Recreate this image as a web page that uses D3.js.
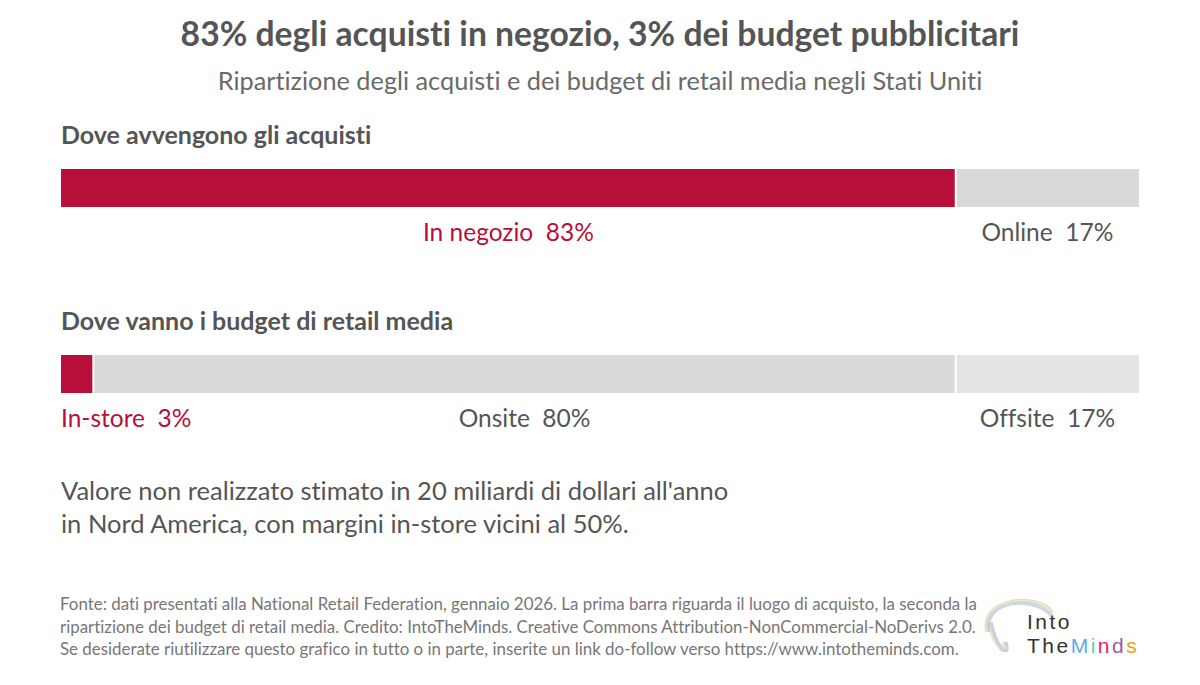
<!DOCTYPE html>
<html>
<head>
<meta charset="utf-8">
<script src="https://cdn.jsdelivr.net/npm/d3@7"></script>
<style>
  body { margin: 0; background: #fff; }
  svg { font-family: Lato, "Open Sans", sans-serif; font-variant-ligatures: none; }
</style>
</head>
<body>
<svg id="chart" width="1200" height="685"></svg>
<script>
// data
var rowTitles = ["Dove avvengono gli acquisti", "Dove vanno i budget di retail media"];
var purchaseCats = ["In negozio", "Online"];
var purchaseVals = [83, 17];
var budgetCats = ["In-store", "Onsite", "Offsite"];
var budgetVals = [3, 80, 17];
var footerLines = [
  "Fonte: dati presentati alla National Retail Federation, gennaio 2026. La prima barra riguarda il luogo di acquisto, la seconda la",
  "ripartizione dei budget di retail media. Credito: IntoTheMinds. Creative Commons Attribution-NonCommercial-NoDerivs 2.0.",
  "Se desiderate riutilizzare questo grafico in tutto o in parte, inserite un link do-follow verso https://www.intotheminds.com."
];
var noteLines = [
  "Valore non realizzato stimato in 20 miliardi di dollari all'anno",
  "in Nord America, con margini in-store vicini al 50%."
];

var width = 1200, height = 685;
var svg = d3.select("#chart");

var x = d3.scaleLinear().domain([0, 100]).range([61, 1139]);

svg.append("text")
   .attr("x", width / 2).attr("y", 46)
   .attr("text-anchor", "middle")
   .attr("font-size", 33.7).attr("font-weight", 700)
   .attr("fill", "#555")
   .text("83% degli acquisti in negozio, 3% dei budget pubblicitari");

svg.append("text")
   .attr("x", width / 2).attr("y", 90)
   .attr("text-anchor", "middle")
   .attr("font-size", 25.3)
   .attr("fill", "#6a6a6a")
   .text("Ripartizione degli acquisti e dei budget di retail media negli Stati Uniti");

function drawRow(title, cats, vals, colors, textColors, top, leftAlignFirst) {
    var g = svg.append("g");

    g.append("text")
     .attr("x", 61).attr("y", top - 25)
     .attr("font-size", 25).attr("font-weight", 700)
     .attr("fill", "#555")
     .text(title);

    var segs = [];
    var acc = 0;
    for (var i = 0; i < vals.length; i++) {
        segs.push({ cat: cats[i], v: vals[i], x0: acc, x1: acc + vals[i], i: i });
        acc += vals[i];
    }

    g.selectAll(".seg")
     .data(segs)
     .enter()
     .append("rect")
       .classed("seg", true)
       .attr("x", d => x(d.x0) + (d.i > 0 ? 1 : 0))
       .attr("y", top)
       .attr("width", d => x(d.x1) - x(d.x0) - (d.i > 0 ? 1 : 0) - (d.i < segs.length - 1 ? 1 : 0))
       .attr("height", 38)
       .attr("fill", d => colors[d.i]);

    g.selectAll(".lab")
     .data(segs)
     .enter()
     .append("text")
       .classed("lab", true)
       .attr("x", d => (leftAlignFirst && d.i === 0) ? x(d.x0) : (x(d.x0) + x(d.x1)) / 2)
       .attr("y", top + 72)
       .attr("text-anchor", d => (leftAlignFirst && d.i === 0) ? "start" : "middle")
       .attr("font-size", 24.5)
       .attr("fill", d => textColors[d.i])
       .attr("xml:space", "preserve")
       .text(d => d.cat + "  " + d.v + "%");
}

drawRow(rowTitles[0], purchaseCats, purchaseVals,
        ["#b80f3a", "#d9d9d9"], ["#b80f3a", "#555"], 169, false);
drawRow(rowTitles[1], budgetCats, budgetVals,
        ["#b80f3a", "#d9d9d9", "#e4e4e4"], ["#b80f3a", "#555", "#555"], 355, true);

svg.append("g")
   .selectAll("text")
   .data(noteLines)
   .enter()
   .append("text")
     .attr("x", 61)
     .attr("y", (d, i) => 500 + i * 33)
     .attr("font-size", 25.5)
     .attr("fill", "#555")
     .text(d => d);

svg.append("g")
   .selectAll("text")
   .data(footerLines)
   .enter()
   .append("text")
     .attr("x", 60)
     .attr("y", (d, i) => 610 + i * 22.5)
     .attr("font-size", 16.9)
     .attr("fill", "#777")
     .text(d => d);

// logo
var logo = svg.append("g").attr("transform", "translate(978, 592)");
var swirlColors = ["#f4c2d8", "#f9e79f", "#a9dfbf", "#aed6f1", "#d7bde2"];
swirlColors.forEach(function (c, i) {
    logo.append("path")
        .attr("d", "M" + (8 + i) + ",40 C" + (0 + i) + "," + (5 + i) + " 60," + (-2 + i) + " 75," + (20 + i * 2) +
                   " M" + (10 + i) + ",30 C" + (15 + i) + ",55 " + (30 + i) + ",70 " + (25 + i) + ",50")
        .attr("fill", "none")
        .attr("stroke", c)
        .attr("stroke-width", 1.5)
        .attr("opacity", 0.8);
});
var brand = logo.append("text")
    .attr("font-family", "'Liberation Sans', sans-serif")
    .attr("font-size", 21)
    .attr("letter-spacing", 2.5)
    .attr("fill", "#333");
brand.append("tspan").attr("x", 49).attr("y", 37).text("Into");
var letters = [["The", "#333"], ["M", "#5dade2"], ["i", "#58d68d"], ["n", "#e91e63"], ["d", "#9b59b6"], ["s", "#f39c12"]];
letters.forEach(function (l, i) {
    var t = brand.append("tspan").attr("fill", l[1]).text(l[0]);
    if (i === 0) t.attr("x", 49).attr("y", 61);
});
</script>
</body>
</html>
